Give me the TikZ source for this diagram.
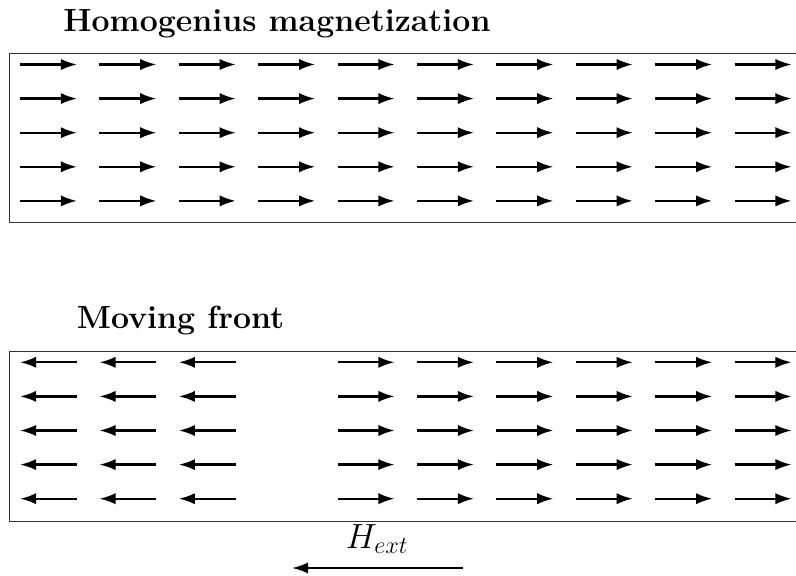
\documentclass[tikz,border=0pt]{standalone}
\usepackage{tikz}
\usetikzlibrary{arrows.meta}

\begin{document}
\begin{tikzpicture}[x=.25mm,y=-.25mm]
  \useasboundingbox (0,0) rectangle (796,575);
  \tikzset{
    magArrow/.style={-{Latex[length=11.5pt,width=8pt]}, line width=1.6pt},
    stripBox/.style={draw=black!80, line width=.6pt},
    stripTitle/.style={font=\fontsize{22.8}{27}\selectfont\bfseries, anchor=base}
  }

  % upper strip: all spins to the right
  \node[stripTitle] (homTitle) at (277,31.7) {Homogenius magnetization};
  \draw[stripBox] (796,53) -| (9,222) -- (796,222);
  \foreach \row in {0,...,4}
    \foreach \col in {0,...,9}
      \draw[magArrow] ({20+79.4*\col},{64.5+34.1*\row}) -- ++(57,0);

  % lower strip: domain wall between column 2 and column 4
  \node[stripTitle] (frontTitle) at (180.5,328.5) {Moving front};
  \draw[stripBox] (796,351) -| (9,521) -- (796,521);
  \foreach \row in {0,...,4} {
    \foreach \col in {0,...,2}
      \draw[magArrow] ({77+79.4*\col},{362.3+34.1*\row}) -- ++(-57,0);
    \foreach \col in {4,...,9}
      \draw[magArrow] ({20+79.4*\col},{362.3+34.1*\row}) -- ++(57,0);
  }

  % applied field
  \coordinate (hStart) at (463,568);
  \coordinate (hEnd) at (292,568);
  \draw[magArrow] (hStart) -- (hEnd);
  \node[font=\fontsize{24}{28}\selectfont, anchor=base] (hLabel) at (377,548) {$H_{ext}$};
\end{tikzpicture}
\end{document}
